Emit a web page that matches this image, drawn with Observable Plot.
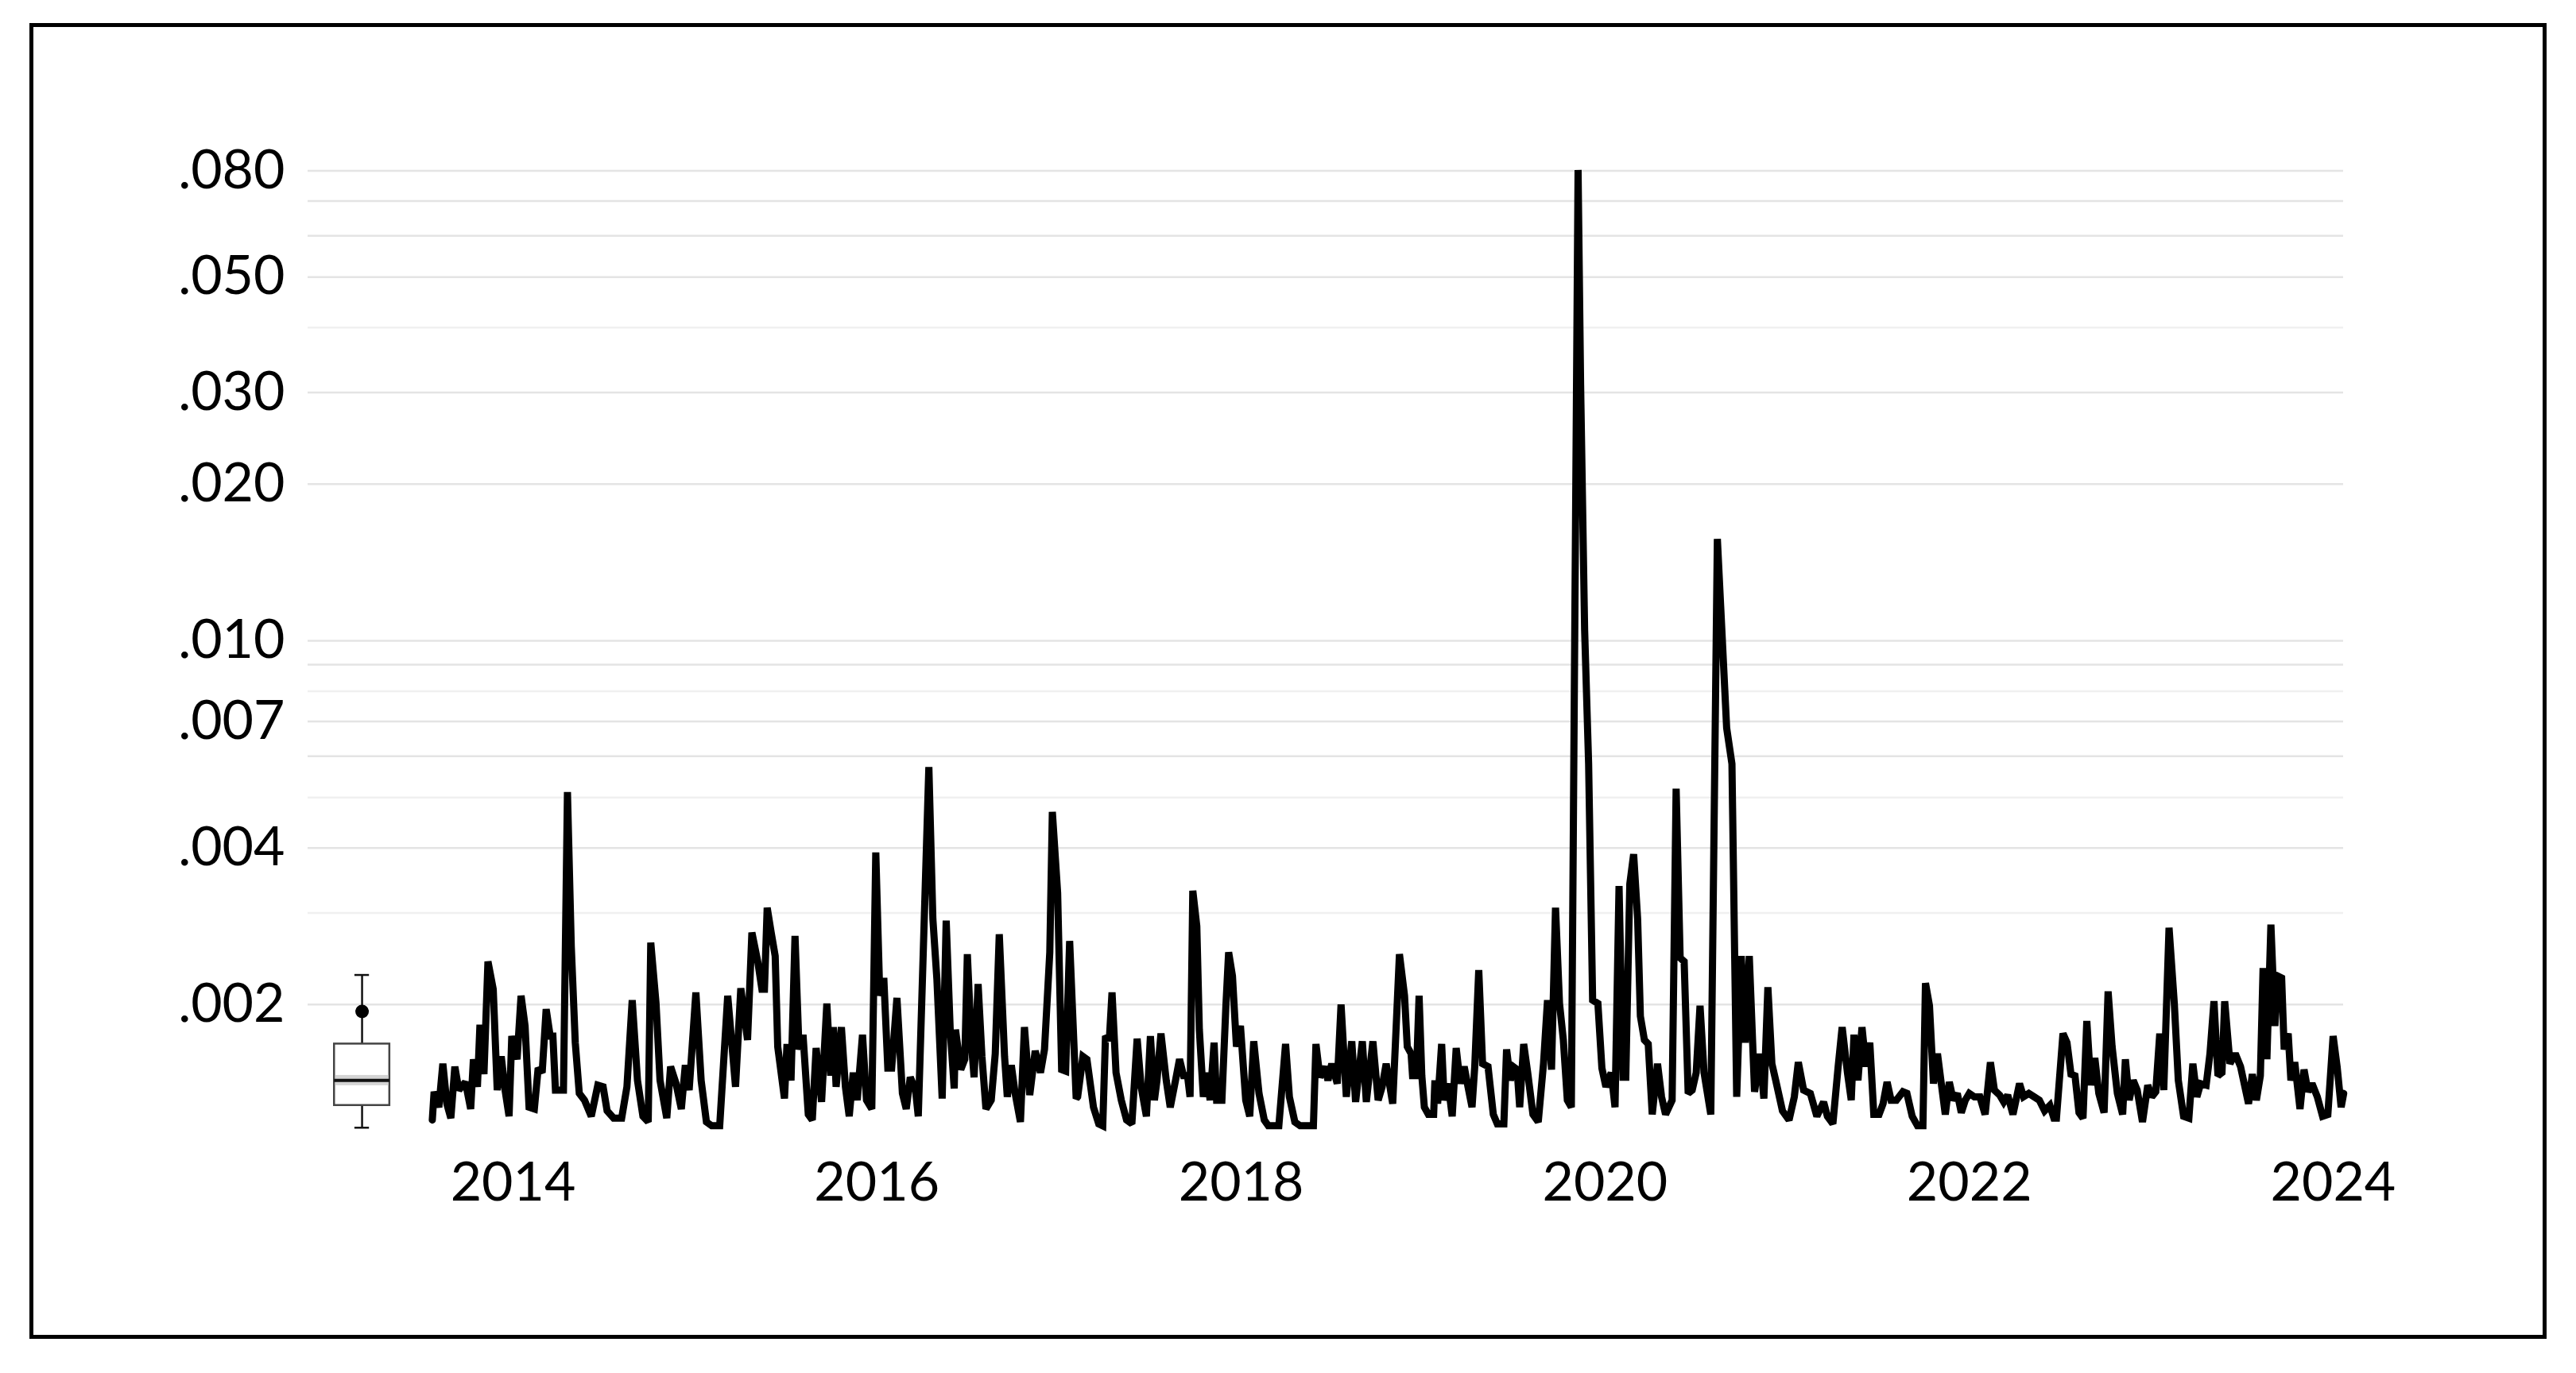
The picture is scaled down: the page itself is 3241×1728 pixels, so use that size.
<!DOCTYPE html>
<html><head><meta charset="utf-8">
<script src="https://cdn.jsdelivr.net/npm/d3@7"></script>
<script src="https://cdn.jsdelivr.net/npm/@observablehq/plot@0.6"></script>
<style>
html,body{margin:0;padding:0;background:#fff;}
#wrap{position:relative;width:3241px;height:1728px;overflow:hidden;background:#fff;}
#frame{position:absolute;left:37px;top:29px;width:3167px;height:1656px;border:5px solid #000;box-sizing:border-box;pointer-events:none;}
#chart{position:absolute;left:0;top:0;}
</style></head><body>
<div id="wrap"><div id="chart"></div><div id="frame"></div></div>
<script>
const years = [
2013.556,2013.566,2013.592,2013.614,2013.636,2013.658,2013.680,2013.702,2013.738,2013.767,2013.782,2013.804,2013.818,2013.840,2013.862,2013.891,2013.913,2013.935,2013.956,2013.978,2013.993,
2014.022,2014.044,2014.066,2014.088,2014.117,2014.138,2014.160,2014.182,2014.204,2014.219,2014.233,2014.277,2014.299,2014.320,2014.342,2014.364,2014.393,2014.430,2014.466,2014.495,2014.517,2014.553,2014.597,2014.626,2014.655,2014.684,2014.714,2014.743,2014.757,2014.786,2014.808,2014.845,2014.866,2014.896,2014.925,2014.947,2014.968,
2015.005,2015.034,2015.063,2015.092,2015.136,2015.180,2015.223,2015.252,2015.289,2015.313,2015.346,2015.368,2015.382,2015.397,2015.419,2015.441,2015.455,2015.492,2015.506,2015.528,2015.550,2015.572,2015.594,2015.623,2015.645,2015.666,2015.696,2015.725,2015.746,2015.761,2015.776,2015.805,2015.827,2015.848,2015.870,2015.892,2015.921,2015.943,2015.972,2015.994,
2016.016,2016.038,2016.060,2016.081,2016.110,2016.140,2016.161,2016.183,2016.212,2016.227,2016.285,2016.307,2016.329,2016.358,2016.380,2016.402,2016.424,2016.431,2016.460,2016.482,2016.496,2016.518,2016.533,2016.555,2016.576,2016.598,2016.627,2016.649,2016.671,2016.700,2016.715,2016.737,2016.758,2016.787,2016.809,2016.838,2016.868,2016.897,2016.919,2016.948,2016.962,2016.991,
2017.013,2017.035,2017.057,2017.093,2017.101,2017.130,2017.152,2017.188,2017.217,2017.239,2017.254,2017.275,2017.290,2017.312,2017.341,2017.370,2017.399,2017.428,2017.450,2017.479,2017.501,2017.523,2017.537,2017.559,2017.588,2017.610,2017.639,2017.661,2017.683,2017.705,2017.719,2017.734,2017.756,2017.770,2017.792,2017.814,2017.829,2017.851,2017.865,2017.894,2017.916,2017.931,2017.952,2017.974,2017.996,
2018.025,2018.047,2018.069,2018.098,2018.127,2018.149,2018.207,2018.244,2018.265,2018.295,2018.324,2018.397,2018.411,2018.433,2018.462,2018.477,2018.498,2018.528,2018.549,2018.578,2018.608,2018.629,2018.666,2018.688,2018.724,2018.753,2018.775,2018.797,2018.833,2018.870,2018.898,2018.913,2018.934,2018.942,2018.963,2018.978,2018.993,
2019.007,2019.029,2019.058,2019.065,2019.080,2019.102,2019.116,2019.138,2019.160,2019.182,2019.204,2019.226,2019.247,2019.269,2019.284,2019.306,2019.327,2019.357,2019.386,2019.408,2019.444,2019.459,2019.480,2019.495,2019.517,2019.531,2019.553,2019.575,2019.604,2019.633,2019.662,2019.684,2019.706,2019.728,2019.750,2019.771,2019.793,2019.815,2019.852,2019.866,2019.888,2019.910,2019.932,2019.961,2019.983,
2020.005,2020.034,2020.055,2020.077,2020.099,2020.114,2020.136,2020.157,2020.179,2020.194,2020.216,2020.237,2020.259,2020.288,2020.310,2020.332,2020.368,2020.390,2020.412,2020.434,2020.456,2020.478,2020.500,2020.521,2020.543,2020.580,2020.616,2020.667,2020.696,2020.722,2020.747,2020.769,2020.791,2020.820,2020.849,2020.871,2020.893,2020.915,2020.936,2020.973,
2021.009,2021.038,2021.060,2021.089,2021.126,2021.162,2021.199,2021.220,2021.250,2021.279,2021.301,2021.330,2021.351,2021.366,2021.388,2021.410,2021.432,2021.453,2021.475,2021.504,2021.526,2021.548,2021.570,2021.599,2021.635,2021.657,2021.686,2021.715,2021.745,2021.759,2021.781,2021.803,2021.825,2021.846,2021.868,2021.890,2021.912,2021.934,2021.956,2021.978,
2022.000,2022.028,2022.058,2022.087,2022.116,2022.138,2022.167,2022.189,2022.211,2022.240,2022.276,2022.298,2022.327,2022.356,2022.385,2022.414,2022.443,2022.465,2022.479,2022.515,2022.537,2022.559,2022.581,2022.603,2022.625,2022.646,2022.668,2022.690,2022.712,2022.741,2022.763,2022.785,2022.814,2022.843,2022.858,2022.879,2022.901,2022.923,2022.952,2022.981,
2023.003,2023.025,2023.047,2023.069,2023.098,2023.127,2023.149,2023.178,2023.207,2023.229,2023.251,2023.272,2023.302,2023.323,2023.345,2023.367,2023.389,2023.404,2023.433,2023.462,2023.491,2023.535,2023.556,2023.578,2023.600,2023.615,2023.636,2023.658,2023.680,2023.695,2023.717,2023.731,2023.753,2023.768,2023.789,2023.818,2023.840,2023.862,2023.884,2023.913,2023.942,2023.971,
2024.000,2024.022,2024.044,2024.058
];
const values = [
.00120,.00136,.00127,.00154,.00129,.00121,.00152,.00137,.00142,.00126,.00157,.00139,.00183,.00147,.00242,.00214,.00137,.00159,.00137,.00122,.00174,
.00157,.00208,.00182,.00127,.00126,.00151,.00148,.00196,.00174,.00174,.00137,.00137,.00512,.00259,.00169,.00135,.00131,.00122,.00140,.00139,.00125,.00121,.00121,.00139,.00204,.00143,.00122,.00119,.00263,.00201,.00143,.00121,.00152,.00141,.00126,.00153,.00137,
.00211,.00143,.00119,.00117,.00117,.00208,.00139,.00215,.00171,.00275,.00241,.00214,.00214,.00307,.00275,.00248,.00166,.00132,.00168,.00143,.00271,.00164,.00175,.00123,.00120,.00165,.00130,.00201,.00146,.00181,.00139,.00181,.00139,.00122,.00148,.00131,.00175,.00131,.00126,.00392,
.00208,.00225,.00151,.00151,.00206,.00135,.00126,.00145,.00137,.00122,.00572,.00292,.00224,.00132,.00290,.00179,.00138,.00179,.00150,.00157,.00250,.00169,.00145,.00219,.00159,.00126,.00131,.00161,.00273,.00159,.00133,.00153,.00135,.00119,.00181,.00134,.00163,.00148,.00164,.00252,.00469,.00328,
.00150,.00149,.00265,.00132,.00133,.00159,.00157,.00127,.00118,.00117,.00174,.00171,.00211,.00148,.00131,.00120,.00118,.00172,.00139,.00122,.00174,.00131,.00143,.00176,.00143,.00127,.00143,.00157,.00146,.00146,.00133,.00331,.00283,.00179,.00133,.00148,.00131,.00169,.00131,.00131,.00199,.00252,.00227,.00166,.00182,
.00131,.00122,.00170,.00135,.00120,.00117,.00117,.00168,.00133,.00119,.00117,.00117,.00168,.00145,.00152,.00143,.00154,.00141,.00200,.00133,.00170,.00130,.00170,.00130,.00170,.00131,.00139,.00154,.00129,.00250,.00208,.00166,.00161,.00146,.00146,.00208,.00146,
.00127,.00123,.00123,.00143,.00129,.00168,.00131,.00141,.00122,.00165,.00141,.00152,.00139,.00127,.00152,.00233,.00154,.00152,.00123,.00118,.00118,.00164,.00143,.00152,.00150,.00127,.00168,.00148,.00123,.00119,.00154,.00204,.00150,.00307,.00201,.00171,.00131,.00127,.0803,.031,.0105,.0058,.00204,.00201,.00151,
.00139,.00148,.00127,.00338,.00145,.00145,.00341,.00389,.00292,.00190,.00171,.00168,.00123,.00154,.00133,.00123,.00131,.00520,.00246,.00242,.00135,.00137,.00148,.00199,.00148,.00123,.0157,.0068,.0058,.00133,.00248,.00169,.00248,.00136,.00161,.00132,.00216,.00154,.00143,.00125,
.00120,.00133,.00155,.00137,.00135,.00122,.00130,.00122,.00118,.00152,.00181,.00148,.00131,.00175,.00143,.00181,.00152,.00169,.00123,.00123,.00129,.00142,.00131,.00131,.00136,.00135,.00122,.00117,.00117,.00220,.00199,.00141,.00161,.00141,.00123,.00142,.00131,.00135,.00124,.00131,
.00135,.00133,.00133,.00123,.00155,.00137,.00134,.00130,.00134,.00123,.00141,.00133,.00135,.00133,.00131,.00125,.00128,.00121,.00121,.00176,.00169,.00147,.00146,.00124,.00121,.00186,.00140,.00158,.00135,.00124,.00212,.00166,.00135,.00123,.00157,.00131,.00143,.00137,.00119,.00140,
.00133,.00136,.00176,.00137,.00281,.00201,.00143,.00122,.00121,.00154,.00133,.00141,.00140,.00161,.00203,.00146,.00148,.00203,.00154,.00161,.00152,.00129,.00147,.00131,.00146,.00235,.00157,.00285,.00182,.00227,.00225,.00164,.00176,.00143,.00155,.00126,.00150,.00136,.00141,.00133,.00122,.00123,
.00174,.00152,.00127,.00135
];

// Axis ticks and gridlines
const yTickValues = [0.002, 0.004, 0.007, 0.01, 0.02, 0.03, 0.05, 0.08];
const gridMajor = [0.002, 0.004, 0.006, 0.007, 0.009, 0.01, 0.02, 0.03, 0.05, 0.06, 0.07, 0.08];
const gridMinor = [0.003, 0.005, 0.008, 0.04];
const xTickYears = [2014, 2016, 2018, 2020, 2022, 2024];

// Box plot summary (read from the small box at the left)
const boxStatNames  = ["low", "q1", "median", "q3", "high", "mean"];
const boxStatValues = [0.00116, 0.00128, 0.00143, 0.00168, 0.00228, 0.00194];
const medianBand = [0.00139, 0.00147];

const toDate = y => {
  const yr = Math.floor(y);
  const a = Date.UTC(yr, 0, 1), b = Date.UTC(yr + 1, 0, 1);
  return new Date(a + (y - yr) * (b - a));
};
const data = years.map((y, i) => ({date: toDate(y), value: values[i]}));
const box = Object.fromEntries(boxStatNames.map((n, i) => [n, boxStatValues[i]]));

// placement of the box (in time units)
const boxC = toDate(2013.17), boxL = toDate(2013.018), boxR = toDate(2013.322);
const capL = toDate(2013.13), capR = toDate(2013.21);

const fmt = d => d3.format(".3f")(d).replace(/^0/, "");

const chart = Plot.plot({
  width: 3241,
  height: 1728,
  marginLeft: 387,
  marginRight: 293,
  marginTop: 151,
  marginBottom: 267,
  style: {fontFamily: "Lato, 'Open Sans', sans-serif", fontSize: "68px", color: "#000", background: "transparent"},
  x: {type: "utc", domain: [toDate(2012.873), toDate(2024.057)]},
  y: {type: "log", domain: [0.001, 0.1]},
  marks: [
    Plot.ruleY(gridMinor, {stroke: "#f0f0f0", strokeWidth: 2.5}),
    Plot.ruleY(gridMajor, {stroke: "#e4e4e4", strokeWidth: 2.5}),
    Plot.axisY(yTickValues, {tickSize: 0, tickPadding: 29, tickFormat: fmt, fontSize: 68, fill: "#000", label: null}),
    Plot.axisX(xTickYears.map(y => toDate(y)), {tickSize: 0, tickPadding: 1, tickFormat: d3.utcFormat("%Y"), fontSize: 68, fill: "#000", label: null}),
    // box plot
    Plot.ruleX([0], {x: () => boxC, y1: () => box.low, y2: () => box.q1, stroke: "#111", strokeWidth: 2.5}),
    Plot.ruleX([0], {x: () => boxC, y1: () => box.q3, y2: () => box.high, stroke: "#111", strokeWidth: 2.5}),
    Plot.ruleY([box.low, box.high], {y: d => d, x1: () => capL, x2: () => capR, stroke: "#111", strokeWidth: 2.5}),
    Plot.rect([0], {x1: () => boxL, x2: () => boxR, y1: () => box.q1, y2: () => box.q3, fill: "#fff", stroke: "#444", strokeWidth: 2.5}),
    Plot.rect([0], {x1: () => boxL, x2: () => boxR, y1: () => medianBand[0], y2: () => medianBand[1], fill: "#d4d4d4", inset: 1.5}),
    Plot.ruleY([box.median], {y: d => d, x1: () => boxL, x2: () => boxR, stroke: "#111", strokeWidth: 4}),
    Plot.dot([box.mean], {x: () => boxC, y: d => d, r: 8.5, fill: "#000", stroke: "none"}),
    // series
    Plot.line(data, {x: "date", y: "value", stroke: "#000", strokeWidth: 9, strokeLinejoin: "miter", strokeMiterlimit: 2, curve: "linear"})
  ]
});
document.getElementById("chart").appendChild(chart);
</script>
</body></html>
